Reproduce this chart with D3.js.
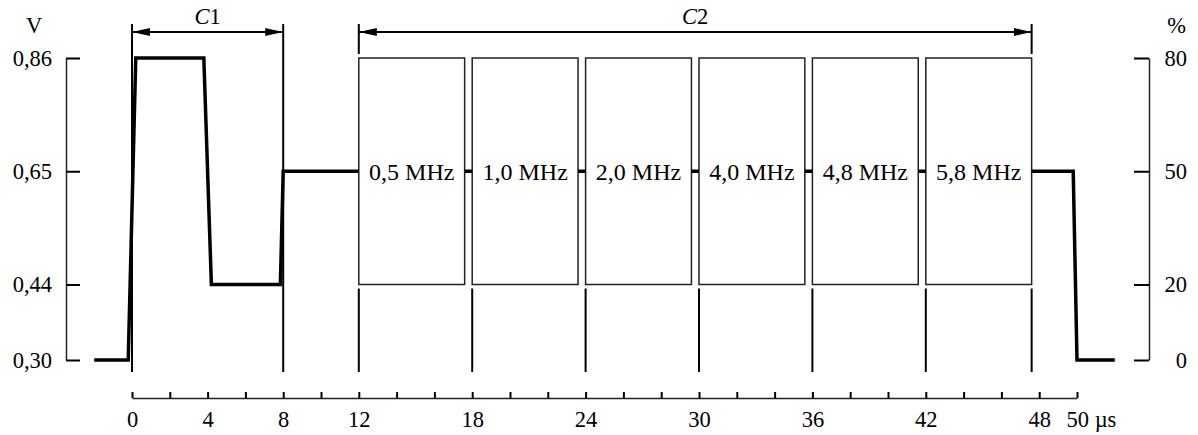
<!DOCTYPE html>
<html>
<head>
<meta charset="utf-8">
<script src="https://cdn.jsdelivr.net/npm/d3@7"></script>
<style>
  body { margin: 0; background: #fff; }
  svg { display: block; font-family: "Liberation Serif", "Times New Roman", serif; }
</style>
</head>
<body>
<svg id="chart"></svg>
<script>
// --- data ---
const timeTicks = [0, 2, 4, 6, 8, 10, 12, 14, 16, 18, 20, 22, 24, 26, 28, 30, 32, 34, 36, 38, 40, 42, 44, 46, 48, 50];
const timeLabels = [0, 4, 8, 12, 18, 24, 30, 36, 42, 48, 50];
const voltTicks = [0.30, 0.44, 0.65, 0.86];
const pctTicks = [0, 20, 50, 80];

// waveform before the sweep and after it (time in µs, level in V)
const waveStartT = [-2, -0.2, 0.2, 3.8, 4.2, 7.85, 8, 12];
const waveStartV = [0.30, 0.30, 0.86, 0.86, 0.44, 0.44, 0.65, 0.65];
const waveEndT = [47.6, 49.8, 50, 52];
const waveEndV = [0.65, 0.65, 0.30, 0.30];

// frequency bursts
const burstStart = [12, 18, 24, 30, 36, 42];
const burstLen = 5.6;
const burstLabels = ["0,5 MHz", "1,0 MHz", "2,0 MHz", "4,0 MHz", "4,8 MHz", "5,8 MHz"];
const burstLow = 0.44, burstHigh = 0.86, restLevel = 0.65;

const width = 1198;
const height = 435;

const svg = d3.select('#chart')
  .attr('width', width)
  .attr('height', height);

const x = d3.scaleLinear().domain([0, 50]).range([132, 1077]);
const y = d3.scaleLinear().domain([0.30, 0.86]).range([360, 58]);
const yPct = d3.scaleLinear().domain([0, 80]).range([360, 58]);

const fontSize = 22.5;

// arrow heads
const defs = svg.append('defs');
['start', 'end'].forEach(function (k) {
  defs.append('marker')
    .attr('id', 'arrow-' + k)
    .attr('viewBox', '0 0 18 8')
    .attr('refX', 18).attr('refY', 4)
    .attr('markerWidth', 18).attr('markerHeight', 8)
    .attr('markerUnits', 'userSpaceOnUse')
    .attr('orient', k === 'end' ? 'auto' : 'auto-start-reverse')
    .append('path')
    .attr('d', 'M0,0L18,4L0,8Z')
    .attr('fill', '#000');
});

// left axis (V)
const leftAxis = svg.append('g')
  .attr('transform', 'translate(66,0)')
  .call(d3.axisLeft(y)
    .tickValues(voltTicks)
    .tickSizeInner(-14)
    .tickSizeOuter(0)
    .tickPadding(14)
    .tickFormat(function (d) { return d3.format('.2f')(d).replace('.', ','); }));

// right axis (%)
const rightAxis = svg.append('g')
  .attr('transform', 'translate(1149,0)')
  .call(d3.axisRight(yPct)
    .tickValues(pctTicks)
    .tickSizeInner(-15)
    .tickSizeOuter(0)
    .tickPadding(38));
rightAxis.selectAll('text').attr('text-anchor', 'end');

// bottom axis (µs)
const bottomAxis = svg.append('g')
  .attr('transform', 'translate(0,398)')
  .call(d3.axisBottom(x)
    .tickValues(timeTicks)
    .tickSizeInner(-6)
    .tickSizeOuter(0)
    .tickPadding(13)
    .tickFormat(function (d) { return timeLabels.includes(d) ? String(d) : ''; }));
bottomAxis.selectAll('.tick')
  .filter(function (d) { return d === 50; })
  .select('text')
  .attr('text-anchor', 'start')
  .attr('dx', -11)
  .text('50 µs');

[leftAxis, rightAxis, bottomAxis].forEach(function (a) {
  a.attr('font-family', null).attr('font-size', fontSize);
  a.selectAll('text').attr('fill', '#000');
  a.select('.domain').attr('stroke', '#222').attr('stroke-width', 1.5);
  a.selectAll('.tick line').attr('stroke', '#000').attr('stroke-width', 2);
});

// unit labels
svg.append('text').attr('x', 34).attr('y', 33)
  .attr('text-anchor', 'middle').attr('font-size', fontSize).text('V');
svg.append('text').attr('x', 1186).attr('y', 33)
  .attr('text-anchor', 'end').attr('font-size', fontSize).text('%');

// marker verticals
const vLine = function (t, y1, y2) {
  svg.append('line')
    .attr('x1', x(t)).attr('x2', x(t))
    .attr('y1', y1).attr('y2', y2)
    .attr('stroke', '#000').attr('stroke-width', 2);
};
vLine(0, 24, 372);
vLine(8, 24, 372);
const sweepEnd = burstStart[burstStart.length - 1] + burstLen;
vLine(burstStart[0], 24, y(burstHigh) - 4);
vLine(sweepEnd, 24, y(burstHigh) - 4);
burstStart.forEach(function (s) { vLine(s, y(burstLow) + 4, 372); });
vLine(sweepEnd, y(burstLow) + 4, 372);

// dimension arrows
const dim = function (t0, t1, label) {
  svg.append('line')
    .attr('x1', x(t0)).attr('x2', x(t1))
    .attr('y1', 32).attr('y2', 32)
    .attr('stroke', '#000').attr('stroke-width', 2)
    .attr('marker-start', 'url(#arrow-start)')
    .attr('marker-end', 'url(#arrow-end)');
  const txt = svg.append('text')
    .attr('x', (x(t0) + x(t1)) / 2).attr('y', 24)
    .attr('text-anchor', 'middle').attr('font-size', fontSize);
  txt.append('tspan').attr('font-style', 'italic').text(label[0]);
  txt.append('tspan').text(label.slice(1));
};
dim(0, 8, 'C1');
dim(burstStart[0], sweepEnd, 'C2');

// bursts
const bursts = svg.append('g');
bursts.selectAll('rect')
  .data(burstStart)
  .enter()
  .append('rect')
  .attr('x', function (d) { return x(d); })
  .attr('y', y(burstHigh))
  .attr('width', function (d) { return x(d + burstLen) - x(d); })
  .attr('height', y(burstLow) - y(burstHigh))
  .attr('fill', 'none')
  .attr('stroke', '#222')
  .attr('stroke-width', 1.5);
bursts.selectAll('text')
  .data(burstStart)
  .enter()
  .append('text')
  .attr('x', function (d) { return (x(d) + x(d + burstLen)) / 2; })
  .attr('y', y(restLevel) + 9)
  .attr('text-anchor', 'middle')
  .attr('font-size', 24)
  .text(function (d, i) { return burstLabels[i]; });

// waveform
const line = d3.line()
  .x(function (d) { return x(d[0]); })
  .y(function (d) { return y(d[1]); });

const segments = [d3.zip(waveStartT, waveStartV)];
for (let i = 0; i < burstStart.length - 1; i++) {
  segments.push([[burstStart[i] + burstLen, restLevel], [burstStart[i + 1], restLevel]]);
}
segments.push(d3.zip(waveEndT, waveEndV));

svg.append('g').selectAll('path')
  .data(segments)
  .enter()
  .append('path')
  .attr('d', line)
  .attr('fill', 'none')
  .attr('stroke', '#000')
  .attr('stroke-width', 3.5)
  .attr('stroke-linejoin', 'miter');
</script>
</body>
</html>
